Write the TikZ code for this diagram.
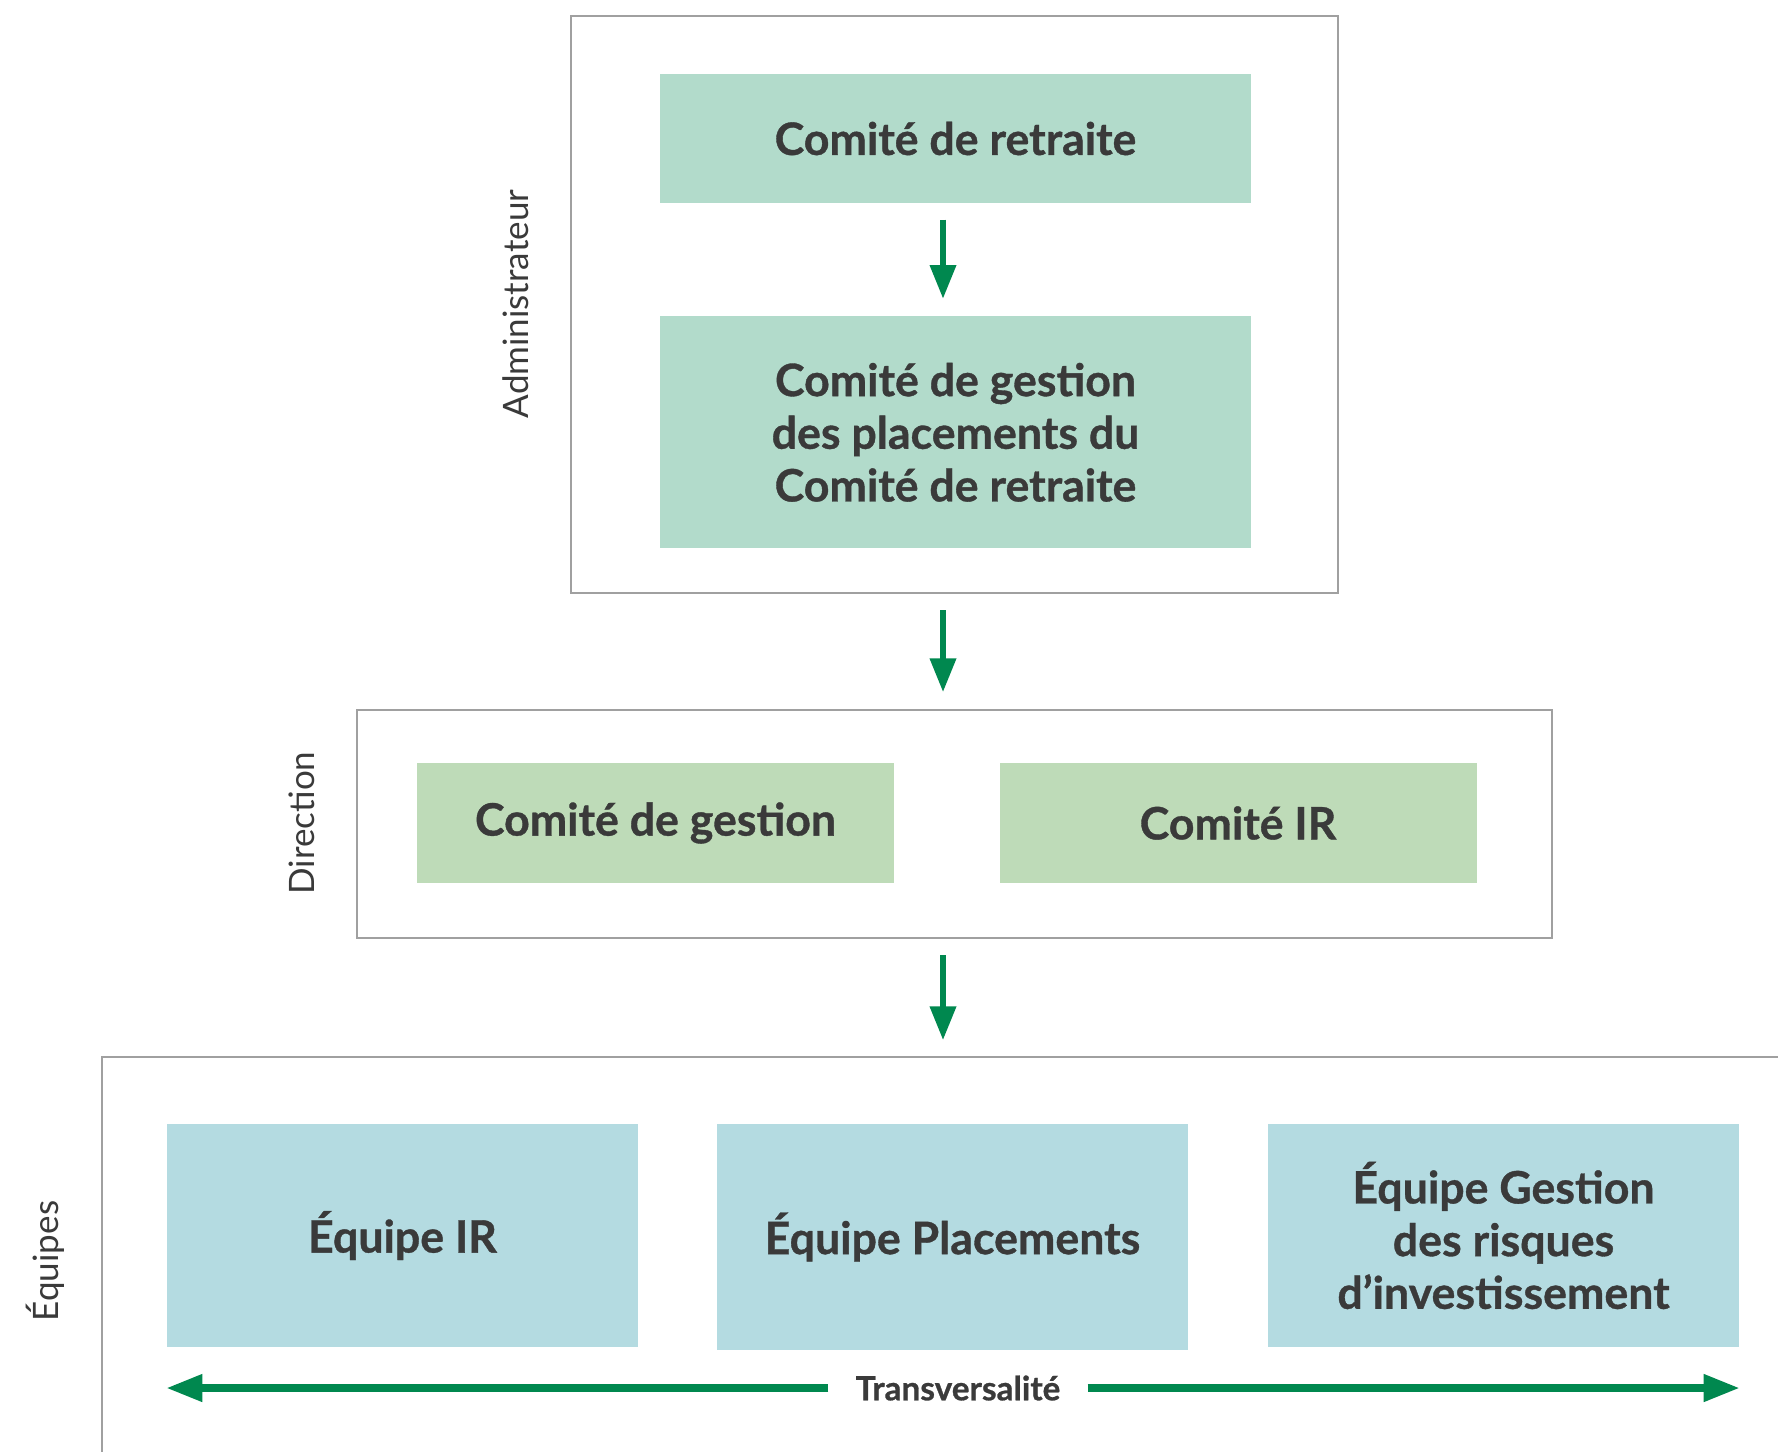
\documentclass[tikz,border=0pt]{standalone}
\usepackage{fontspec}
\setmainfont{Lato}[BoldFeatures={FakeBold=0.8}]
\usetikzlibrary{arrows.meta, positioning}

\definecolor{retGreen}{HTML}{B2DBCB}
\definecolor{dirGreen}{HTML}{BEDBB8}
\definecolor{teamBlue}{HTML}{B4DBE1}
\definecolor{arrowGreen}{HTML}{00884F}
\definecolor{txtGray}{HTML}{3A3A3A}
\definecolor{frameGray}{HTML}{A0A0A0}

\begin{document}
\begin{tikzpicture}[x=0.3pt, y=-0.3pt,
	frame/.style={draw=frameGray, line width=0.6pt, minimum width=#1, inner sep=0pt},
	box/.style={align=center, text=txtGray, inner sep=0pt, font=\fontsize{13.4}{15.8}\selectfont\bfseries},
	level/.style={rotate=90, text=txtGray, font=\fontsize{10.5}{12}\selectfont},
	flow/.style={-{Triangle[length=10.2pt,width=7.5pt]}, draw=arrowGreen, line width=2pt, shorten <=4.8pt, shorten >=5pt},
	across/.style={-{Triangle[length=10.8pt,width=7.8pt]}, draw=arrowGreen, line width=2.2pt}]
	\useasboundingbox (0,0) rectangle (1778,1452);

	% frames
	\node[frame=230.1pt, minimum height=173.1pt				] (ADMIN)		at (954.5,304.5)	{};
	\node[frame=358.5pt, minimum height=68.4pt				] (DIRECTION)	at (954.5,824)		{};
	\draw[draw=frameGray, line width=0.6pt] (1778,1057) -| (102,1452);
	\coordinate (EQUIPES_TOP) at (954.5,1057);

	\node[level] (ADMIN_LBL)	at (516,304)	{Administrateur};
	\node[level] (DIR_LBL)		at (302,823)	{Direction};
	\node[level] (EQ_LBL)		at (45,1261)	{Équipes};

	% boxes
	\node[box, fill=retGreen, minimum width=177.3pt, minimum height=38.7pt				] (COMITE_RET)		at (955.5,138.5)	{Comité de retraite};
	\node[box, fill=retGreen, minimum width=177.3pt, minimum height=69.6pt, below=33.6pt of COMITE_RET] (COMITE_PLAC)	{Comité de gestion\\des placements du\\Comité de retraite};
	\node[box, fill=dirGreen, minimum width=143.1pt, minimum height=36pt				] (COMITE_GEST)		at (655.5,823)		{Comité de gestion};
	\node[box, fill=dirGreen, minimum width=143.1pt, minimum height=36pt				] (COMITE_IR)		at (1238,823)		{Comité IR};
	\node[box, fill=teamBlue, minimum width=141.3pt, minimum height=66.9pt				] (EQUIPE_IR)		at (402.5,1235.5)	{Équipe IR};
	\node[box, fill=teamBlue, minimum width=141.3pt, minimum height=67.8pt				] (EQUIPE_PLAC)		at (952.5,1237)		{Équipe Placements};
	\node[box, fill=teamBlue, minimum width=141.3pt, minimum height=66.9pt				] (EQUIPE_RISQ)		at (1503.5,1235.5)	{Équipe Gestion\\des risques\\d’investissement};

	\node[text=txtGray, font=\fontsize{10}{12}\selectfont\bfseries, inner xsep=8pt] (TRANS) at (958,1388) {Transversalité};

	\coordinate (AX) at (943,0);

	\draw[flow]	(COMITE_RET.south -| AX)	-- (COMITE_PLAC.north -| AX);
	\draw[flow]	(ADMIN.south -| AX)			-- (DIRECTION.north -| AX);
	\draw[flow]	(DIRECTION.south -| AX)		-- (EQUIPES_TOP -| AX);

	\draw[across]	(TRANS.west)	-- (TRANS.west -| EQUIPE_IR.west);
	\draw[across]	(TRANS.east)	-- (TRANS.east -| EQUIPE_RISQ.east);
\end{tikzpicture}
\end{document}
